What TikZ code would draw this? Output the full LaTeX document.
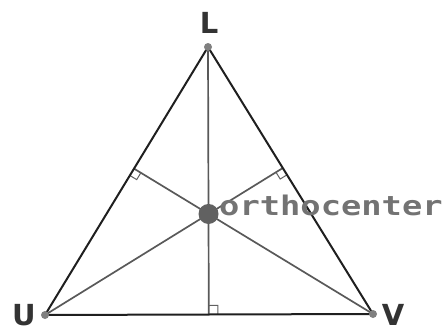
\documentclass[tikz,border=0pt]{standalone}
\usepackage{fontspec}
\setmainfont{DejaVu Sans}
\newfontfamily\monofont{DejaVu Sans Mono}
\usetikzlibrary{calc}
\begin{document}
\begin{tikzpicture}[x=1pt,y=-1pt,
 side/.style={line width=2pt,draw=black!88},
 alt/.style={line width=1.7pt,draw=black!65},
 vdot/.style={circle,fill=black!50,inner sep=0pt,minimum size=8pt},
 hdot/.style={circle,fill=black!62,inner sep=0pt,minimum size=20pt},
 vlabel/.style={font=\fontsize{29}{29}\selectfont\bfseries,text=black!80,inner sep=0pt,anchor=base},
 hlabel/.style={font=\fontsize{27}{27}\selectfont\monofont\bfseries,text=black!55,inner sep=0pt,anchor=base west},
 rmark/.style={line width=1pt,draw=black!62}]
\useasboundingbox (0,0) rectangle (448,332);
\coordinate (L) at (208,47);
\coordinate (U) at (45,315);
\coordinate (V) at (373,314);
\coordinate (FL) at ($(U)!(L)!(V)$);
\coordinate (FU) at ($(L)!(U)!(V)$);
\coordinate (FV) at ($(L)!(V)!(U)$);
\coordinate (H) at (intersection of L--FL and U--FU);
% altitudes
\draw[alt] (L) -- (FL);
\draw[alt] (U) -- (FU);
\draw[alt] (V) -- (FV);
% right-angle marks
\draw[rmark] ($(FL)!9pt!(V)$) -- ($(FL)!9pt!(V)+(FL)!9pt!(H)-(FL)$) -- ($(FL)!9pt!(H)$);
\draw[rmark] ($(FU)!8pt!(V)$) -- ($(FU)!8pt!(V)+(FU)!8pt!(H)-(FU)$) -- ($(FU)!8pt!(H)$);
\draw[rmark] ($(FV)!8pt!(U)$) -- ($(FV)!8pt!(U)+(FV)!8pt!(H)-(FV)$) -- ($(FV)!8pt!(H)$);
% sides
\draw[side] (L) -- (U) -- (V) -- cycle;
% dots
\node[vdot] (dL) at (L) {};
\node[vdot] (dU) at (U) {};
\node[vdot] (dV) at (V) {};
\node[hdot] (dH) at (H) {};
% labels
\node[vlabel] (tL) at (209,33) {L};
\node[vlabel] (tU) at (24,325) {U};
\node[vlabel] (tV) at (393,325) {V};
\node[hlabel] (tH) at (219,215) {\scalebox{1.25}[1]{orthocenter}};
\end{tikzpicture}
\end{document}
